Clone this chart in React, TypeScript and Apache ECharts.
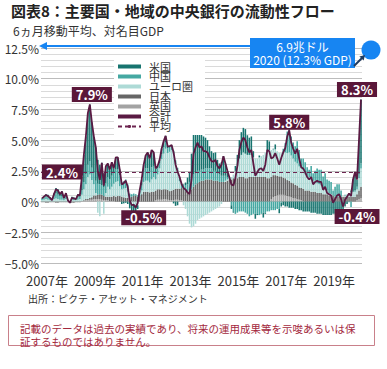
import React, { useEffect, useRef } from 'react';
import * as echarts from 'echarts';

const FONT = '"Noto Sans CJK JP", "Noto Sans", sans-serif';
const TITLE = '図表8：主要国・地域の中央銀行の流動性フロー';
const SUBTITLE = '6ヵ月移動平均、対名目GDP';
const SOURCE = '出所：ピクテ・アセット・マネジメント';
const DISCLAIMER = ['記載のデータは過去の実績であり、将来の運用成果等を示唆あるいは保', '証するものではありません。'];
const NOTE_LINES = ['6.9兆ドル', '2020 (12.3% GDP)'];

const START_YEAR = 2007;
const MONTH_COUNT = 161; // 2007-01 .. 2020-05
const months: string[] = [];
for (let i = 0; i < MONTH_COUNT; i++) {
  const y = START_YEAR + Math.floor(i / 12);
  const m = (i % 12) + 1;
  months.push(`${y}-${m < 10 ? '0' + m : m}`);
}

const yTickValues = [-5, -2.5, 0, 2.5, 5, 7.5, 10, 12.5];
const yTickLabels = ['−5.0%', '−2.5%', '0%', '2.5%', '5.0%', '7.5%', '10.0%', '12.5%'];

const AVERAGE = 2.4;

// % of nominal GDP, 6-month moving average, monthly
const uk = [
  0, 0, 0, 0, 0, 0, 0, 0, 0, 0, 0, 0,
  0, 0, 0, 0, 0, 0, 0, 0, 0.05, 0.05, 0.1, 0.1,
  0.15, 0.15, 0.2, 0.2, 0.2, 0.2, 0.15, 0.1, 0.1, 0.1, 0.05, 0.05,
  0.05, 0, 0, 0, 0, 0, 0, 0, 0, 0, 0, 0,
  0, 0, 0, 0, 0, 0, 0, 0, 0, 0.1, 0.15, 0.15,
  0.15, 0.2, 0.2, 0.15, 0.1, 0.1, 0.1, 0.15, 0.15, 0.1, 0.1, 0.05,
  0.05, 0, 0, 0, 0, 0, 0, 0, 0, 0, 0, 0,
  0, 0, 0, 0, 0, 0, 0, 0, 0, 0, 0, 0,
  0, 0, 0, 0, 0, 0, 0, 0, 0, 0, 0, 0,
  0, 0, 0, 0, 0, 0, 0, 0.2, 0.35, 0.45, 0.5, 0.55,
  0.55, 0.55, 0.5, 0.45, 0.4, 0.35, 0.3, 0.25, 0.2, 0.15, 0.1, 0.05,
  0, 0, 0, 0, 0, 0, 0, 0, 0, 0, 0, 0,
  0, 0, 0, 0, 0, 0, 0, 0, 0, 0, 0, 0,
  0, 0, 0.1, 0.2, 0.3,
];

const japan = [
  -0.05, -0.05, -0.1, -0.1, -0.05, -0.05, -0.05, -0.1, -0.1, -0.05, -0.05, -0.05,
  -0.05, -0.05, -0.05, -0.1, -0.1, -0.05, -0.05, -0.05, 0, 0.05, 0.1, 0.1,
  0.15, 0.2, 0.3, 0.3, 0.35, 0.4, 0.4, 0.35, 0.3, 0.3, 0.35, 0.35,
  0.4, 0.4, 0.45, 0.45, 0.4, 0.35, 0.3, 0.3, 0.35, 0.4, 0.45, 0.5,
  0.4, 0.45, 0.6, 0.8, 0.8, 0.8, 0.75, 0.8, 0.8, 0.8, 0.85, 0.85,
  0.8, 0.8, 0.8, 0.8, 0.75, 0.8, 0.85, 0.9, 0.9, 0.95, 1.0, 1.0,
  0.8, 0.8, 0.9, 1.0, 1.2, 1.4, 1.5, 1.6, 1.7, 1.7, 1.8, 1.8,
  1.8, 1.8, 1.7, 1.7, 1.7, 1.6, 1.6, 1.6, 1.6, 1.7, 1.8, 1.8,
  1.9, 1.9, 1.9, 2.0, 2.0, 2.0, 1.9, 1.9, 2.0, 2.0, 2.0, 2.0,
  2.0, 2.0, 2.0, 2.0, 2.0, 1.9, 1.9, 1.8, 1.8, 1.7, 1.6, 1.5,
  1.5, 1.4, 1.4, 1.3, 1.3, 1.2, 1.2, 1.1, 1.1, 1.0, 1.0, 1.0,
  0.9, 0.9, 0.9, 0.8, 0.8, 0.8, 0.7, 0.7, 0.7, 0.6, 0.6, 0.6,
  0.5, 0.5, 0.5, 0.4, 0.4, 0.4, 0.4, 0.4, 0.4, 0.4, 0.4, 0.4,
  0.4, 0.4, 0.5, 0.7, 0.9,
];

const euro = [
  0.1, 0.15, 0.2, 0.15, 0.1, 0.1, 0.2, 0.25, 0.2, 0.15, 0.15, 0.1,
  0.2, 0.05, 0.0, 0.1, 0.1, 0.1, 0.15, 0.2, 0.5, 0.9, 1.2, 1.8,
  1.9, 1.4, 0.9, 0.2, -0.9, -1.2, 0.0, -1.0, 0.3, 0.8, 0.6, 0.8,
  1.0, 1.2, 1.2, 0.8, 0.6, 0.7, 0.8, 0.5, 0.0, -0.2, -0.2, -0.3,
  -0.3, 0.0, 0.3, 0.8, 0.9, 0.9, 0.8, 1.0, 1.2, 0.9, 1.2, 1.7,
  2.5, 2.9, 3.3, 3.0, 3.2, 3.3, 2.9, 2.0, 1.4, 0.6, 0.0, -0.3,
  -0.6, -1.2, -1.8, -2.1, -2.0, -1.8, -1.5, -1.4, -1.3, -1.2, -1.1, -1.0,
  -0.9, -0.8, -0.7, -0.6, -0.5, -0.4, -0.2, 0.0, 0.1, 0.1, 0.1, 0.2,
  0.3, 0.6, 1.0, 1.5, 1.8, 2.0, 2.0, 1.9, 1.8, 1.8, 1.6, 1.5,
  1.5, 1.6, 1.7, 1.8, 2.0, 2.2, 2.3, 2.2, 2.1, 2.1, 2.0, 1.9,
  1.9, 2.0, 2.1, 2.2, 2.3, 2.2, 2.0, 1.9, 1.8, 1.7, 1.6, 1.5,
  1.3, 1.2, 1.1, 1.0, 0.9, 0.9, 0.8, 0.7, 0.6, 0.5, 0.4, 0.3,
  0.2, 0.1, 0.0, 0.0, 0.0, 0.0, 0.0, 0.0, 0.1, 0.2, 0.3, 0.4,
  0.4, 0.4, 0.4, 1.0, 1.5,
];

const china = [
  0.15, 0.2, 0.2, 0.2, 0.2, 0.1, 0.3, 0.4, 0.35, 0.3, 0.3, 0.15,
  0.3, 0.1, 0.0, 0.1, 0.1, 0.1, 0.2, 0.2, 0.4, 0.6, 0.8, 1.0,
  1.1, 1.0, 0.9, 1.0, 0.9, 0.8, 0.8, 0.7, 0.8, 0.8, 0.8, 0.9,
  0.9, 1.0, 1.0, 0.9, 0.6, 0.6, 0.7, 0.6, 0.3, 0.2, 0.2, 0.1,
  0.1, 0.2, 0.4, 0.9, 1.0, 1.0, 0.9, 1.0, 0.9, 0.6, 0.5, 0.4,
  0.4, 0.5, 0.5, 0.4, 0.4, 0.4, 0.3, 0.3, 0.3, 0.3, 0.3, 0.3,
  0.5, 0.6, 0.7, 0.9, 1.0, 1.0, 1.0, 0.9, 0.9, 0.9, 0.9, 0.9,
  0.9, 0.9, 0.8, 0.8, 0.7, 0.6, 0.5, 0.5, 0.4, 0.2, 0.0, -0.3,
  -0.8, -1.0, -0.9, -0.8, -0.8, -0.8, -0.9, -1.0, -1.2, -1.1, -1.0, -1.0,
  -1.0, -1.1, -1.0, -0.9, -0.9, -0.8, -0.8, -0.7, -0.7, -0.7, -0.6, -0.6,
  -0.1, 0.35, 0.75, 1.75, 2.3, 1.55, 1.3, 1.25, 1.8, 1.35, 0.8, 0.95,
  1.0, 0.7, 0.6, 1.1, 0.6, 0.8, 1.2, 1.2, 1.3, 0.95, 1.3, 0.9,
  1.0, 1.0, 0.4, 0.8, 1.0, 1.0, 0.5, -0.2, 0.05, 0.0, -0.05, -0.45,
  0.0, 0.1, 0.2, 0.3, 0.4,
];

const us = [
  0.05, 0.1, 0.2, 0.2, 0.05, 0.0, 0.15, 0.45, 0.45, 0.2, 0.4, 0.1,
  0.2, 0.0, -0.05, 0.2, 0.15, 0.05, 0.25, 0.15, 1.05, 2.2, 3.1, 4.2,
  4.6, 3.7, 3.0, 2.7, 1.95, 1.6, 1.8, 1.15, 1.4, 1.1, 0.8, 1.1,
  0.35, 1.0, 0.95, 0.45, -0.2, -0.15, -0.1, -0.2, -0.55, -0.7, -0.7, -0.8,
  -0.3, 0.25, 0.5, 0.5, 1.05, 1.3, 1.05, 1.4, 1.1, 0.3, 0.2, 0.3,
  0.45, 0.5, 0.55, 0.15, 0.05, 0.0, -0.15, -0.35, -0.3, 0.05, 0.05, 0.05,
  0.2, 0.55, 0.8, 2.0, 3.7, 3.8, 3.8, 3.3, 3.2, 2.7, 2.5, 2.3,
  1.8, 1.4, 1.45, 1.5, 1.0, 0.9, 1.1, 1.6, 1.0, 0.5, 0.05, -0.3,
  -0.1, 0.4, 0.9, 1.5, 1.85, 2.0, 2.0, 1.6, 1.4, 1.5, 0.5, -0.4,
  -0.1, 0.15, 0.0, -0.4, -0.1, 0.9, 0.7, 0.0, 0.05, 0.4, 0.0, -0.35,
  -0.3, -0.3, -0.4, -0.4, -0.5, -0.5, -0.5, -0.6, -0.6, -0.7, -0.7, -0.8,
  -0.8, -0.8, -0.8, -0.9, -0.9, -0.9, -1.0, -1.0, -1.0, -1.1, -1.1, -1.1,
  -1.1, -1.1, -1.0, -1.0, -0.9, -0.8, -0.7, -0.6, -0.4, -0.2, 0.0, 0.1,
  1.0, 1.5, 0.6, 2.8, 5.2,
];

const total = [
  0.26, 0.4, 0.54, 0.45, 0.3, 0.12, 0.6, 1.0, 0.9, 0.6, 0.81, 0.3,
  0.68, 0.1, -0.1, 0.3, 0.25, 0.2, 0.54, 0.5, 2.0, 3.8, 5.3, 7.2,
  7.9, 6.45, 5.3, 4.4, 2.5, 1.77, 3.15, 1.3, 2.87, 3.1, 2.6, 3.2,
  2.7, 3.6, 3.6, 2.6, 1.4, 1.5, 1.7, 1.2, 0.1, -0.3, -0.25, -0.5,
  -0.1, 0.9, 1.8, 3.0, 3.75, 4.0, 3.5, 4.2, 4.0, 2.7, 2.9, 3.4,
  4.3, 4.9, 5.35, 4.5, 4.5, 4.6, 4.0, 3.0, 2.45, 2.0, 1.45, 1.1,
  0.97, 0.75, 0.6, 1.8, 3.9, 4.4, 4.8, 4.4, 4.5, 4.1, 4.1, 4.0,
  3.6, 3.3, 3.25, 3.4, 2.9, 2.7, 3.0, 3.7, 3.1, 2.5, 1.95, 1.4,
  1.3, 1.9, 2.9, 4.2, 4.85, 5.2, 5.0, 4.4, 4.0, 4.2, 3.1, 2.1,
  2.4, 2.65, 2.7, 2.5, 3.0, 4.2, 4.1, 3.5, 3.6, 3.95, 3.5, 3.0,
  3.55, 4.0, 4.35, 5.3, 5.8, 4.8, 4.3, 3.9, 4.3, 3.5, 2.8, 2.7,
  2.4, 2.0, 1.8, 2.0, 1.4, 1.6, 1.7, 1.6, 1.6, 0.95, 1.2, 0.7,
  0.6, 0.5, -0.1, 0.2, 0.5, 0.6, 0.2, -0.4, 0.15, 0.4, 0.65, 0.45,
  1.8, 2.4, 1.8, 5.0, 8.3,
];

// highlighted values: month index, text
const callouts = [
  { idx: 24, text: '7.9%' },
  { idx: 47, text: '-0.5%' },
  { idx: 124, text: '5.8%' },
  { idx: 160, text: '8.3%' },
  { idx: 151, text: '-0.4%' },
];
const calloutOffsets: Record<string, number[]> = {
  '7.9%': [2, -10], '-0.5%': [8, 10], '5.8%': [0, -8], '8.3%': [-4, -10], '-0.4%': [14, 10],
};
const AVG_LABEL_IDX = 10;

const C = {
  us: '#17746f', china: '#45a8a2', euro: '#addad6', japan: '#666666', uk: '#a3a3a3',
  total: '#5a1a43', avg: '#6d2550', tag: '#5a1739', blue: '#1785f2', navy: '#1f3b60',
};

export default function App() {
  const ref = useRef<HTMLDivElement>(null);
  useEffect(() => {
    if (!ref.current) return;
    const chart = echarts.init(ref.current, undefined, { renderer: 'svg' });
    const barSeries = (name: string, data: number[], color: string) => ({
      name, type: 'bar', stack: 'all', data, barCategoryGap: '22%',
      itemStyle: { color }, emphasis: { disabled: true }, z: 2,
    });
    const tagLabel = {
      show: true, color: '#fff', fontWeight: 'bold', fontSize: 13, fontFamily: FONT,
      backgroundColor: C.tag, padding: [1, 4, 0, 4], lineHeight: 14, position: 'inside',
    };
    const option: any = {
      animation: false,
      backgroundColor: '#fff',
      textStyle: { fontFamily: FONT },
      title: [
        { text: TITLE, left: 11, top: 3, padding: 0, textStyle: { fontSize: 15, fontWeight: 'bold', color: '#222', fontFamily: FONT } },
        { text: SUBTITLE, left: 13, top: 24, padding: 0, textStyle: { fontSize: 12, fontWeight: 'normal', color: '#333', fontFamily: FONT } },
      ],
      grid: { left: 41, right: 25, top: 48, bottom: 106 },
      legend: {
        orient: 'vertical', left: 114, top: 58, padding: [3, 12, 3, 3],
        backgroundColor: '#fff', itemGap: -1, itemWidth: 23, itemHeight: 4,
        selectedMode: false,
        textStyle: { fontSize: 11, color: '#333', fontFamily: FONT, padding: [0, 0, 0, 3] },
        data: [
          { name: '米国', icon: 'rect' }, { name: '中国', icon: 'rect' }, { name: 'ユーロ圏', icon: 'rect' },
          { name: '日本', icon: 'rect' }, { name: '英国', icon: 'rect' }, { name: '合計', icon: 'rect' },
          { name: '平均' },
        ],
        z: 20,
      },
      xAxis: {
        type: 'category', data: months, boundaryGap: true,
        axisLine: { show: true, lineStyle: { color: '#bdbdbd' } },
        axisTick: { show: false },
        axisLabel: {
          interval: (i: number) => i % 24 === 0,
          formatter: (v: string) => v.slice(0, 4) + '年',
          fontSize: 13, color: '#333', margin: 11, padding: [0, 0, 0, 10], fontFamily: FONT,
        },
        splitLine: { show: false },
      },
      yAxis: {
        type: 'value', min: -5, max: 12.5, interval: 2.5,
        axisLine: { show: false }, axisTick: { show: false },
        axisLabel: {
          formatter: (v: number) => { const k = yTickValues.indexOf(v); return k >= 0 ? yTickLabels[k] : ''; },
          fontSize: 12, color: '#333', margin: 2, fontFamily: FONT,
        },
        splitLine: { lineStyle: { color: '#bcbcbc', width: 1 } },
        minorTick: { show: false, splitNumber: 5 },
        minorSplitLine: { show: true, lineStyle: { color: '#dadada', width: 1 } },
      },
      series: [
        barSeries('英国', uk, C.uk),
        barSeries('日本', japan, C.japan),
        barSeries('ユーロ圏', euro, C.euro),
        barSeries('中国', china, C.china),
        barSeries('米国', us, C.us),
        {
          name: '平均', type: 'line', data: [], symbol: 'none',
          lineStyle: { color: C.avg, width: 1.3, type: [4, 3] }, itemStyle: { color: C.avg },
          markLine: {
            silent: true, symbol: 'none', label: { show: false },
            lineStyle: { color: C.avg, width: 1.2, type: [4, 3] },
            data: [{ yAxis: AVERAGE }],
          },
          z: 4,
        },
        {
          name: '合計', type: 'line', data: total, symbol: 'none',
          lineStyle: { color: C.total, width: 1.8 }, itemStyle: { color: C.total },
          emphasis: { disabled: true }, z: 5,
          markPoint: {
            symbol: 'rect', symbolSize: 1, itemStyle: { color: 'rgba(0,0,0,0)' }, label: tagLabel,
            data: [
              ...callouts.map((c) => ({
                name: c.text, coord: [months[c.idx], total[c.idx]], value: c.text,
                label: { ...tagLabel, formatter: c.text, offset: calloutOffsets[c.text] },
              })),
              {
                name: 'avg', coord: [months[AVG_LABEL_IDX], AVERAGE], value: AVERAGE,
                label: { ...tagLabel, formatter: AVERAGE.toFixed(1) + '%', offset: [0, 0] },
              },
            ],
            z: 10,
          },
        },
      ],
      graphic: [
        { type: 'line', shape: { x1: 46, y1: 46, x2: 252, y2: 46 }, style: { stroke: C.blue, lineWidth: 2 }, z: 100 },
        { type: 'polygon', shape: { points: [[39, 46], [47, 42], [47, 50]] }, style: { fill: C.blue }, z: 100 },
        { type: 'rect', shape: { x: 250, y: 38, width: 105, height: 30 }, style: { fill: C.blue }, z: 100 },
        { type: 'text', x: 302.5, y: 53, style: { text: NOTE_LINES.join('\n'), fill: '#fff', fontSize: 12, lineHeight: 13.5, fontFamily: FONT, align: 'center', verticalAlign: 'middle' }, z: 101 },
        { type: 'circle', shape: { cx: 371, cy: 50, r: 9.5 }, style: { fill: C.blue }, z: 100 },
        { type: 'line', shape: { x1: 354, y1: 66, x2: 362, y2: 58 }, style: { stroke: C.navy, lineWidth: 2 }, z: 102 },
        { type: 'polygon', shape: { points: [[365, 55], [359.4, 56.4], [363.6, 60.6]] }, style: { fill: C.navy }, z: 102 },
        { type: 'text', x: 28, y: 298, style: { text: SOURCE, fill: '#333', fontSize: 10, fontFamily: FONT, verticalAlign: 'middle' }, z: 100 },
        { type: 'rect', shape: { x: 8.5, y: 315.5, width: 366, height: 30 }, style: { fill: 'none', stroke: '#c9808a', lineWidth: 1 }, z: 100 },
        { type: 'text', x: 20, y: 335, style: { text: DISCLAIMER.join('\n'), fill: '#a3283d', fontSize: 10.5, lineHeight: 13, fontFamily: FONT, verticalAlign: 'middle' }, z: 100 },
      ],
    };
    chart.setOption(option);
    return () => chart.dispose();
  }, []);
  return <div ref={ref} style={{ position: 'absolute', left: 0, top: 0, width: 387, height: 369 }} />;
}
